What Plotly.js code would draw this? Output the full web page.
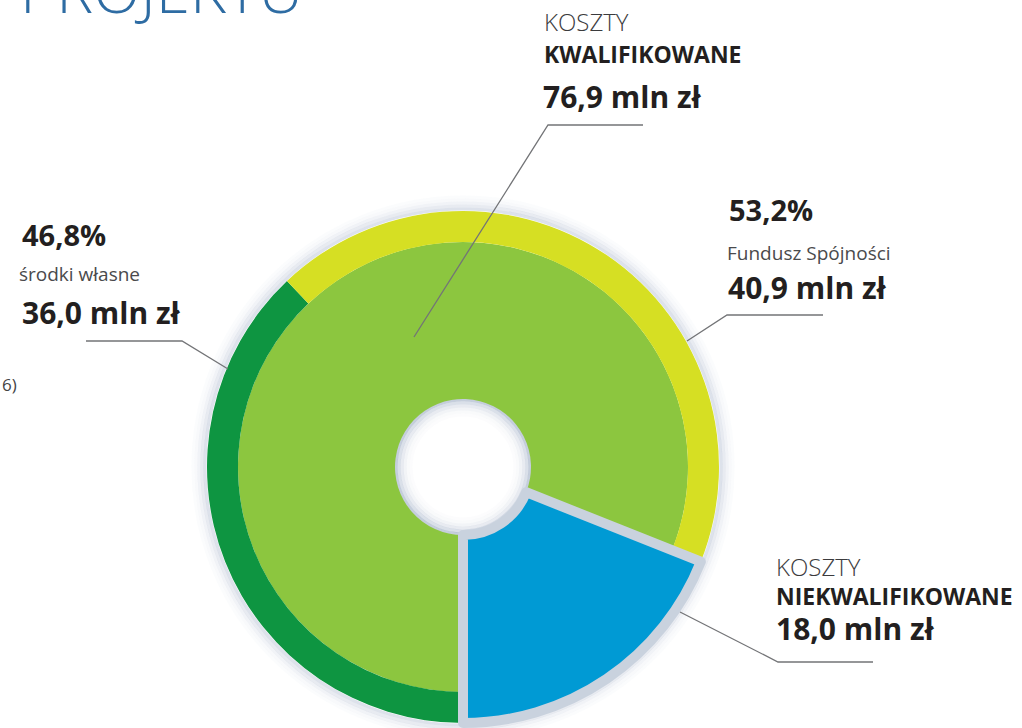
<!DOCTYPE html>
<html>
<head>
<meta charset="utf-8">
<script src="https://cdn.plot.ly/plotly-3.0.1.min.js"></script>
<style>
html,body{margin:0;padding:0;background:#ffffff;}
#chart{width:1022px;height:728px;}
</style>
</head>
<body>
<div id="chart"></div>
<script>
// ---- data ----
const costCategories = ['KOSZTY KWALIFIKOWANE', 'KOSZTY NIEKWALIFIKOWANE'];
const costValues = [76.9, 18.0];
const fundingSources = ['środki własne', 'Fundusz Spójności'];
const fundingValues = [36.0, 40.9];
const fundingShares = [46.8, 53.2];
const titleText = 'PROJEKTU';
const sideText = '6)';

// ---- layout helpers ----
const W = 1022, H = 728;
const CX = 463, CY = 467, R_OUT = 256, R_MID = 225, R_HOLE = 68;
function px(x){ return x / W; }
function py(y){ return 1 - y / H; }
function domainFor(r){ return {x:[px(CX - r), px(CX + r)], y:[py(CY + r), py(CY - r)]}; }
function fmt(v, d){ return v.toFixed(d).replace('.', ','); }

const C_QUAL = '#8cc63f', C_NONQ = '#009ad4', C_OWN = '#0e9541', C_FUND = '#d6df23';
const NONE = 'rgba(0,0,0,0)';
const GAP = '#c9d2de';

const common = {type:'pie', sort:false, direction:'clockwise', rotation:180,
  textinfo:'none', hoverinfo:'skip', showlegend:false};

const innerTrace = Object.assign({}, common, {
  labels: costCategories, values: costValues,
  marker:{colors:[C_QUAL, NONE], line:{width:0}},
  hole: R_HOLE / R_MID, domain: domainFor(R_MID)
});
const ringTrace = Object.assign({}, common, {
  labels: fundingSources.concat(['_']), values: fundingValues.concat([costValues[1]]),
  marker:{colors:[C_OWN, C_FUND, NONE], line:{width:0}},
  hole: R_MID / R_OUT, domain: domainFor(R_OUT)
});
const blueTrace = Object.assign({}, common, {
  labels: costCategories, values: costValues,
  marker:{colors:[NONE, C_NONQ], line:{width:[0, 10], color:[NONE, GAP]}},
  hole: R_HOLE / R_OUT, domain: domainFor(R_OUT)
});

// ---- decorative shadows ----
const shapes = [];
function circle(r, color, w){
  shapes.push({type:'circle', xref:'paper', yref:'paper', layer:'below',
    x0:px(CX - r), x1:px(CX + r), y0:py(CY + r), y1:py(CY - r),
    line:{color:color, width:w}});
}
[[R_OUT+2,0.32],[R_OUT+5,0.22],[R_OUT+8,0.13],[R_OUT+11,0.07],[R_OUT+14,0.035]]
  .forEach(a => circle(a[0], 'rgba(150,166,192,' + a[1] + ')', 3.2));
[[R_HOLE-1,0.55],[R_HOLE-4,0.35],[R_HOLE-7,0.22],[R_HOLE-10,0.12],[R_HOLE-13,0.06],[R_HOLE-16,0.03]]
  .forEach(a => circle(a[0], 'rgba(150,166,192,' + a[1] + ')', 3.2));

function leader(pts){
  const p = pts.map((q, i) => (i ? 'L' : 'M') + px(q[0]) + ',' + py(q[1])).join(' ');
  shapes.push({type:'path', xref:'paper', yref:'paper', layer:'above', path:p,
    line:{color:'#737477', width:1.3}});
}
leader([[414,337],[548,125],[643,125]]);
leader([[687,341],[727,315],[823,315]]);
leader([[680,612],[778,662],[873,662]]);
leader([[228,369],[182,341],[86,341]]);

// ---- annotations ----
const F = '"Open Sans", "Noto Sans", sans-serif';
const anns = [];
function txt(t, x, y, size, weight, color, anchor){
  anns.push({text:t, xref:'paper', yref:'paper', x:px(x), y:py(y),
    xanchor:anchor || 'left', yanchor:'middle', showarrow:false,
    font:{family:F, size:size, weight:weight, color:color || '#231f20'}});
}
txt(titleText, 18, -11, 62, 300, '#2e6ca3');
txt(sideText, 0, 384, 17, 400, '#444444', 'left');

txt('KOSZTY', 542, 21, 24, 300, '#3b3b3d');
txt('KWALIFIKOWANE', 542, 54, 23, 700);
txt(fmt(costValues[0],1) + ' mln zł', 541, 97, 30, 700);

txt(fmt(fundingShares[1],1) + '%', 727, 210, 29, 700);
txt(fundingSources[1], 725, 253, 19, 400, '#4a4a4c');
txt(fmt(fundingValues[1],1) + ' mln zł', 726, 288, 30, 700);

txt(fmt(fundingShares[0],1) + '%', 20, 235, 29, 700);
txt(fundingSources[0], 17, 274, 19, 400, '#4a4a4c');
txt(fmt(fundingValues[0],1) + ' mln zł', 20, 312, 30, 700);

txt('KOSZTY', 774, 566, 24, 300, '#3b3b3d');
txt('NIEKWALIFIKOWANE', 774, 596, 23, 700);
txt(fmt(costValues[1],1) + ' mln zł', 774, 628, 30, 700);

const layout = {
  width: W, height: H,
  margin:{l:0, r:0, t:0, b:0},
  paper_bgcolor:'#ffffff', plot_bgcolor:'#ffffff',
  showlegend:false,
  shapes: shapes,
  annotations: anns
};

Plotly.newPlot('chart', [innerTrace, ringTrace, blueTrace], layout, {staticPlot:true, displayModeBar:false});
</script>
</body>
</html>
